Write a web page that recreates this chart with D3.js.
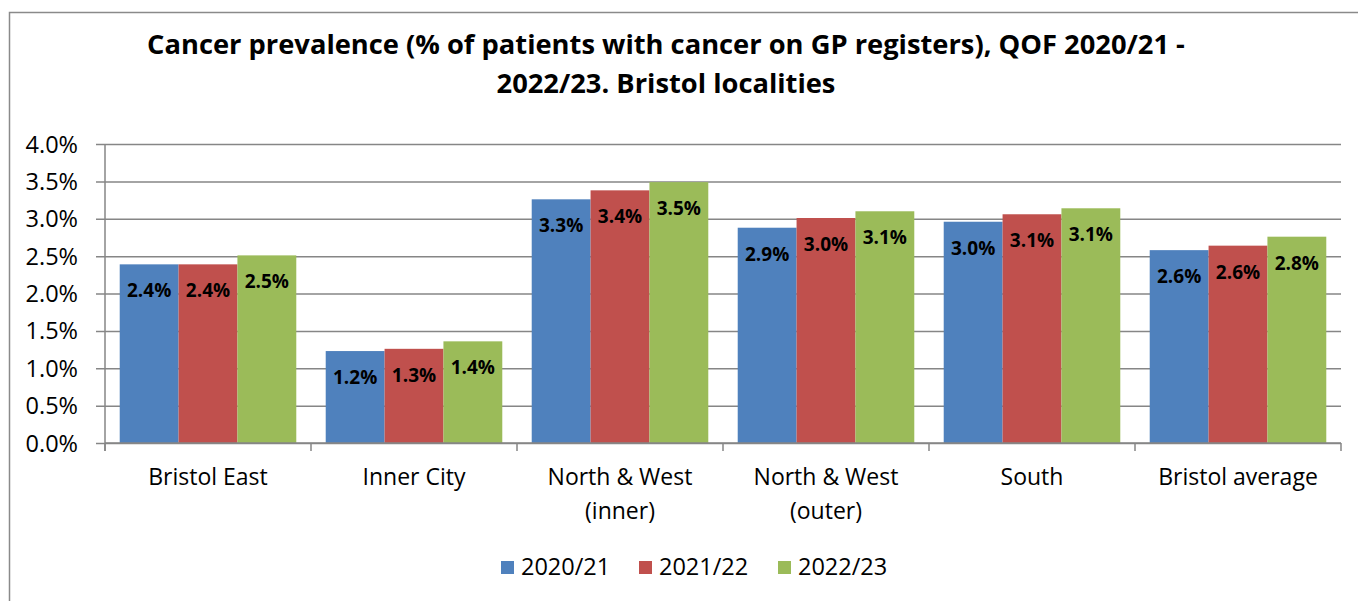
<!DOCTYPE html>
<html>
<head>
<meta charset="utf-8">
<script src="https://cdn.jsdelivr.net/npm/d3@7"></script>
<style>
  body { margin: 0; background: #fff; }
  svg text { font-family: "Open Sans", "Noto Sans", sans-serif; fill: #000; }
</style>
</head>
<body>
<div id="chart"></div>
<script>
// chart data
var categories = [["Bristol East"], ["Inner City"], ["North & West", "(inner)"],
                  ["North & West", "(outer)"], ["South"], ["Bristol average"]];
var seriesNames = ["2020/21", "2021/22", "2022/23"];
var s2020 = [2.39, 1.23, 3.26, 2.88, 2.96, 2.58];
var s2021 = [2.39, 1.26, 3.38, 3.01, 3.06, 2.64];
var s2022 = [2.51, 1.36, 3.49, 3.10, 3.14, 2.76];
var yTicks = [0, 0.5, 1, 1.5, 2, 2.5, 3, 3.5, 4];
var titleLines = ["Cancer prevalence (% of patients with cancer on GP registers), QOF 2020/21 -",
                  "2022/23. Bristol localities"];

var colors = ["#4F81BD", "#C0504D", "#9BBB59"];
var W = 1358, H = 601;
var plot = {left: 105, right: 1341, top: 144, bottom: 443};

var svg = d3.select("#chart").append("svg")
    .attr("width", W).attr("height", H);

// outer chart border
svg.append("path")
    .attr("d", "M9.5," + H + " V12.5 H" + W)
    .attr("fill", "none").attr("stroke", "#8a8a8a").attr("stroke-width", 1.5);

// title
svg.append("text")
    .attr("x", 666).attr("y", 54)
    .attr("text-anchor", "middle")
    .style("font-size", "27.3px").style("font-weight", "bold")
    .selectAll("tspan").data(titleLines).enter().append("tspan")
    .attr("x", 666).attr("dy", function(d, i) { return i ? 39 : 0; })
    .text(function(d) { return d; });

var x0 = d3.scaleBand().domain(d3.range(categories.length))
    .range([plot.left, plot.right]).paddingInner(0).paddingOuter(0);
var x1 = d3.scaleBand().domain(d3.range(seriesNames.length))
    .range([0, x0.bandwidth()]).paddingOuter(0.25).paddingInner(0);
var y = d3.scaleLinear().domain([0, 4]).range([plot.bottom, plot.top]);

// gridlines + y axis
var yAxis = svg.append("g")
    .attr("transform", "translate(" + plot.left + ",0)")
    .call(d3.axisLeft(y).tickValues(yTicks)
        .tickSize(-(plot.right - plot.left))
        .tickFormat(function(d) { return d.toFixed(1) + "%"; }));
yAxis.select(".domain").remove();
yAxis.selectAll(".tick line")
    .attr("x1", -9).attr("stroke", "#868686").attr("stroke-width", 1.5);
yAxis.selectAll(".tick text")
    .attr("x", -27).attr("dy", "0.34em").attr("fill", "#000")
    .style("font-size", "23.5px").style("font-family", "'Open Sans', sans-serif");

svg.append("line")
    .attr("x1", plot.left).attr("x2", plot.left)
    .attr("y1", plot.top).attr("y2", plot.bottom + 8)
    .attr("stroke", "#868686").attr("stroke-width", 1.5);

// bars
var table = categories.map(function(c, i) { return [s2020[i], s2021[i], s2022[i]]; });

var groups = svg.selectAll(".grp").data(table).enter().append("g")
    .attr("class", "grp")
    .attr("transform", function(d, i) { return "translate(" + x0(i) + ",0)"; });

groups.selectAll("rect").data(function(d) { return d; }).enter().append("rect")
    .attr("x", function(d, j) { return x1(j); })
    .attr("y", function(d) { return y(d); })
    .attr("width", x1.bandwidth())
    .attr("height", function(d) { return y(0) - y(d); })
    .attr("fill", function(d, j) { return colors[j]; });

groups.selectAll(".lbl").data(function(d) { return d; }).enter().append("text")
    .attr("class", "lbl")
    .attr("x", function(d, j) { return x1(j) + x1.bandwidth() / 2; })
    .attr("y", function(d) { return y(d) + 33; })
    .attr("text-anchor", "middle")
    .style("font-size", "19px").style("font-weight", "bold")
    .text(function(d) { return d.toFixed(1) + "%"; });

// x axis
svg.append("line")
    .attr("x1", plot.left).attr("x2", plot.right)
    .attr("y1", plot.bottom).attr("y2", plot.bottom)
    .attr("stroke", "#868686").attr("stroke-width", 1.5);
svg.selectAll(".xtick").data(d3.range(categories.length + 1)).enter().append("line")
    .attr("x1", function(i) { return plot.left + i * x0.step(); })
    .attr("x2", function(i) { return plot.left + i * x0.step(); })
    .attr("y1", plot.bottom).attr("y2", plot.bottom + 8)
    .attr("stroke", "#868686").attr("stroke-width", 1.5);

svg.selectAll(".xlab").data(categories).enter().append("text")
    .attr("class", "xlab")
    .attr("text-anchor", "middle")
    .style("font-size", "23px")
    .selectAll("tspan").data(function(d, i) { return d.map(function(t) { return {t: t, i: i}; }); })
    .enter().append("tspan")
    .attr("x", function(d) { return x0(d.i) + x0.bandwidth() / 2; })
    .attr("y", function(d, k) { return 485 + k * 34; })
    .text(function(d) { return d.t; });

// legend
var legX = [501, 639, 778];
var leg = svg.selectAll(".leg").data(seriesNames).enter().append("g")
    .attr("transform", function(d, i) { return "translate(" + legX[i] + ",561)"; });
leg.append("rect").attr("width", 13).attr("height", 13).attr("y", 0)
    .attr("fill", function(d, i) { return colors[i]; });
leg.append("text").attr("x", 20).attr("y", 14)
    .style("font-size", "23.5px")
    .text(function(d) { return d; });
</script>
</body>
</html>
